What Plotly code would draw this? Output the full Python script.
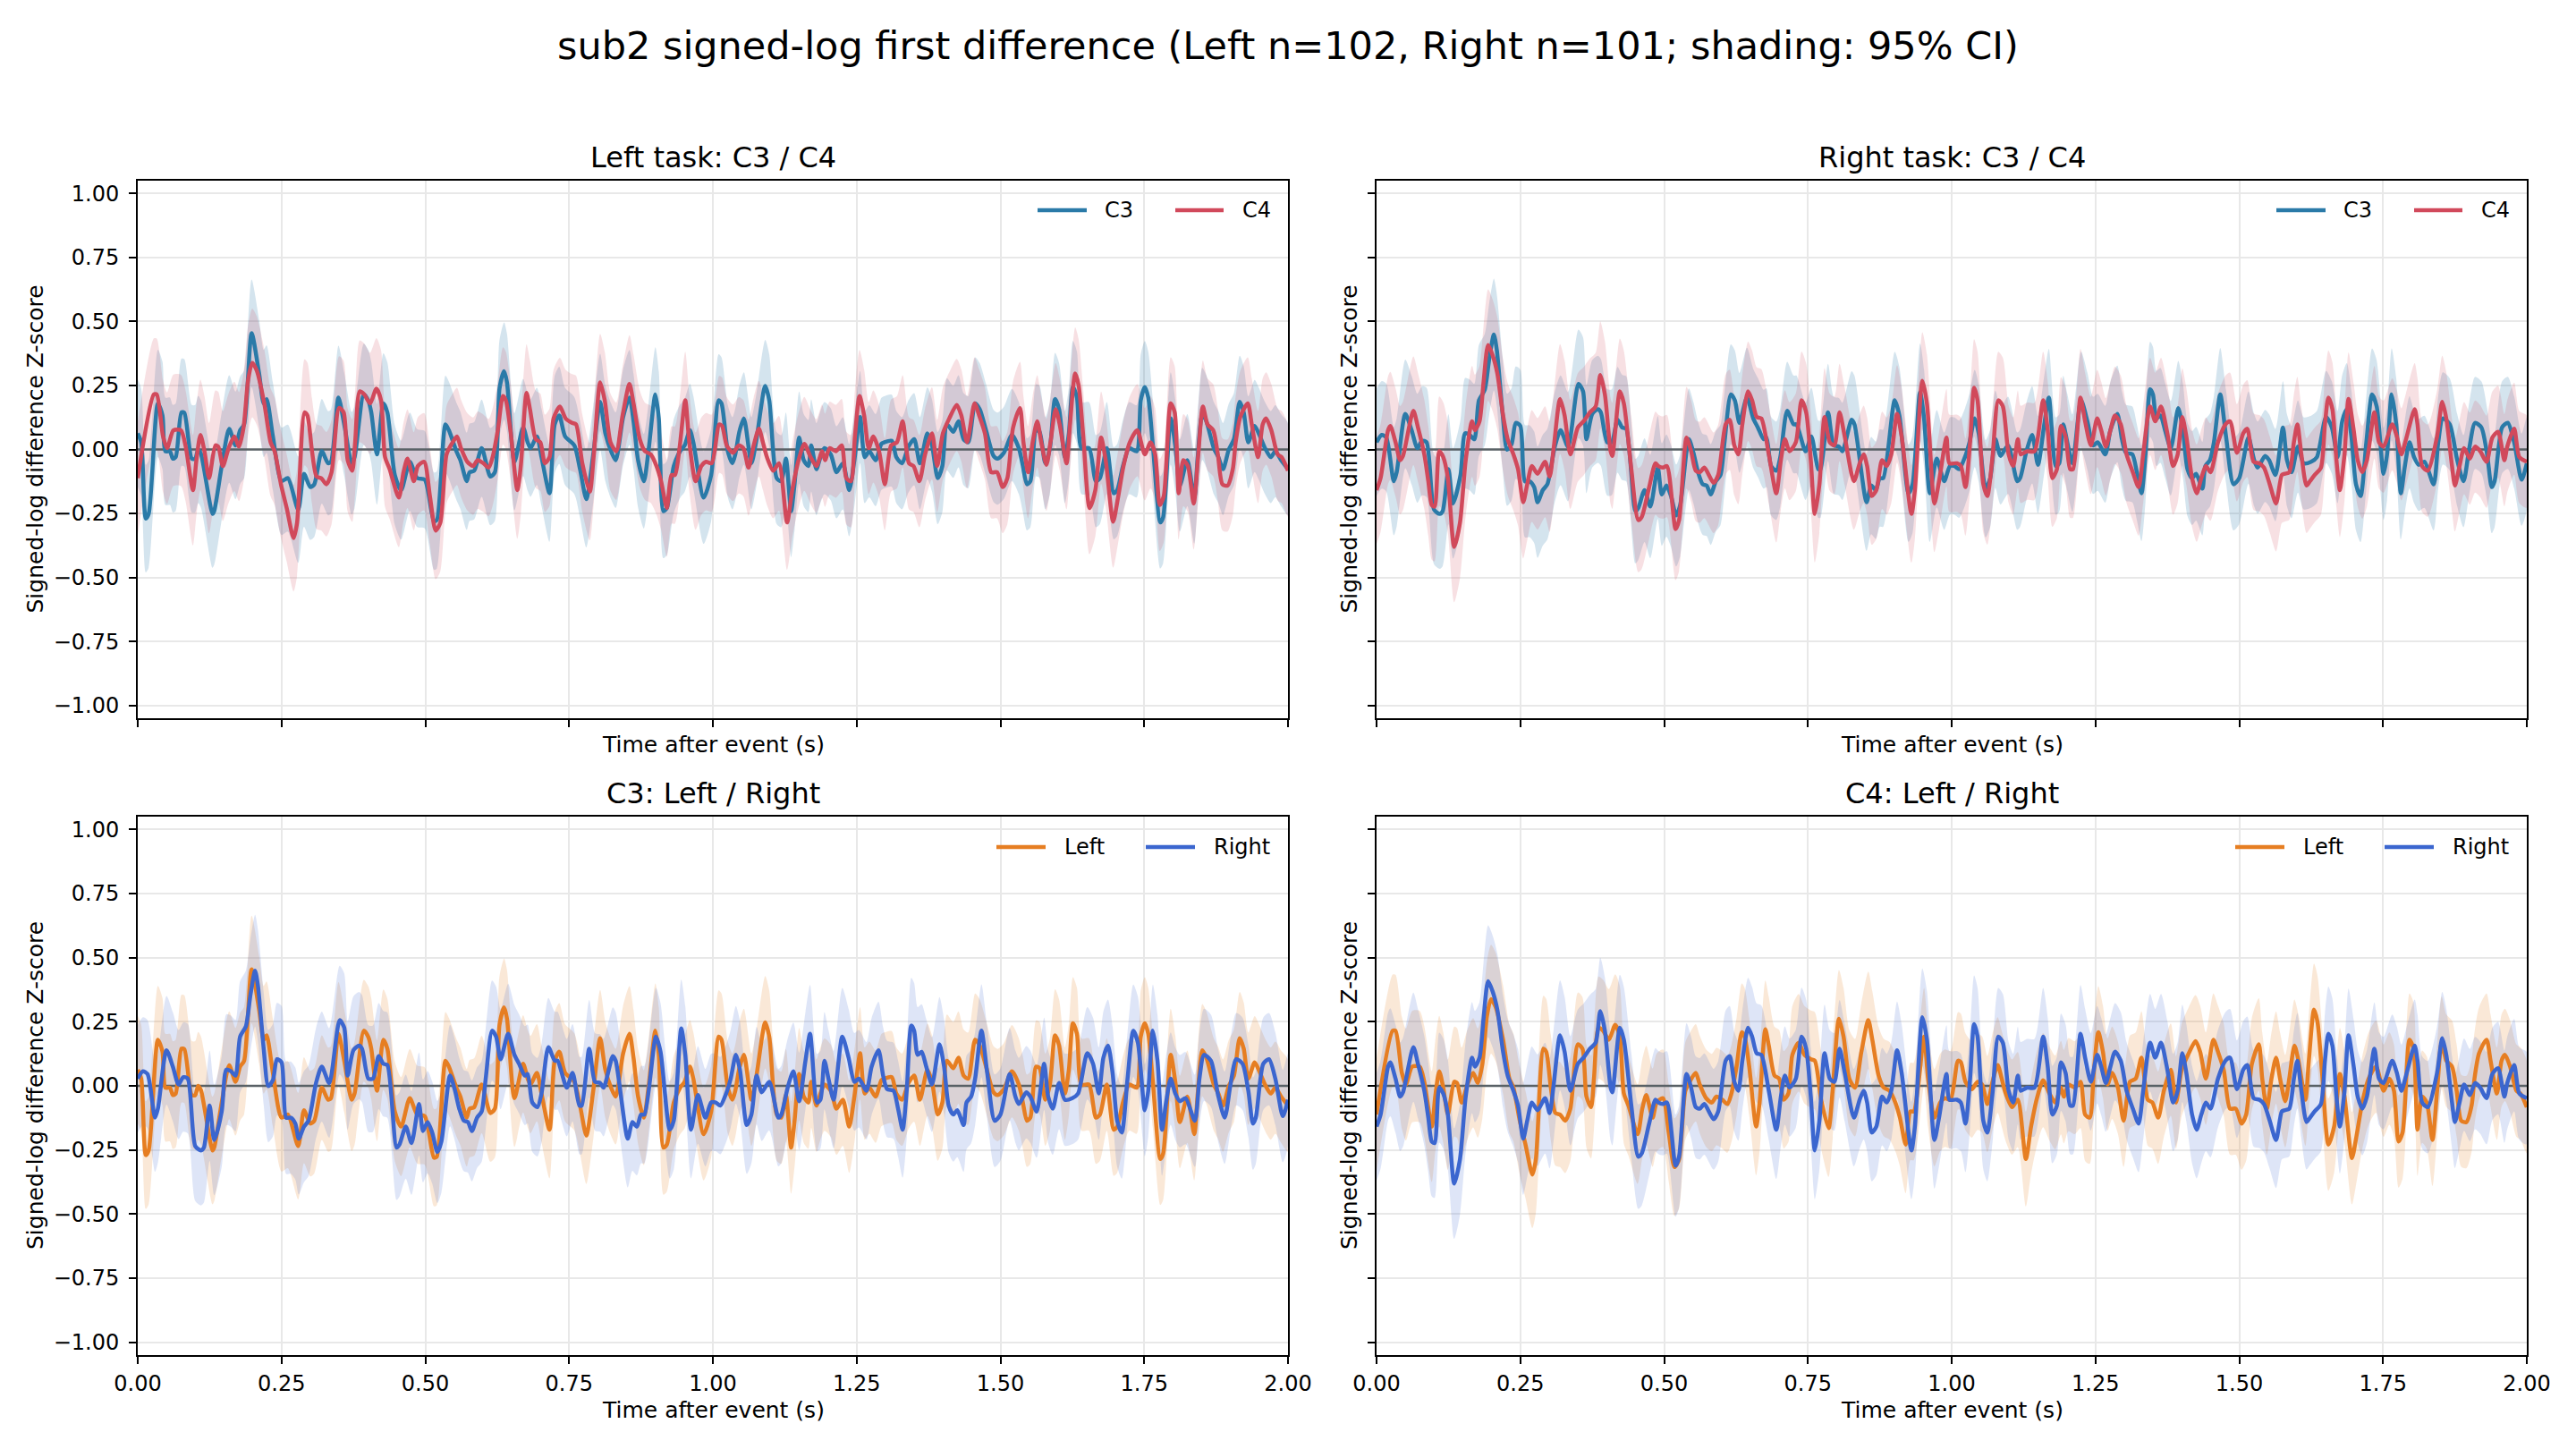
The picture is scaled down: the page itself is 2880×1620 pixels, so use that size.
import numpy as np
import plotly.graph_objects as go

# ---------------- data ----------------
# Mean signed-log first-difference z-score, (time s, value)
LEFT_C3 = [
(0.000,0.063),(0.006,0.028),(0.014,-0.270),(0.019,-0.252),(0.035,0.180),(0.043,0.133),(0.048,-0.007),
(0.056,-0.007),(0.061,-0.036),(0.066,-0.030),(0.076,0.145),(0.081,0.143),(0.094,-0.036),(0.100,-0.036),
(0.105,0.000),(0.110,-0.018),(0.130,-0.252),(0.133,-0.240),(0.146,-0.065),(0.159,0.080),(0.170,0.016),
(0.178,0.075),(0.185,0.098),(0.198,0.454),(0.211,0.297),(0.219,0.180),(0.224,0.197),(0.235,0.051),
(0.250,-0.124),(0.261,-0.112),(0.279,-0.235),(0.289,-0.095),(0.300,-0.147),(0.307,-0.136),(0.320,-0.007),
(0.331,-0.054),(0.336,-0.048),(0.349,0.203),(0.359,0.098),(0.372,-0.054),(0.377,-0.030),(0.393,0.215),
(0.401,0.190),(0.406,0.145),(0.416,-0.019),(0.427,0.180),(0.434,0.145),(0.447,-0.100),(0.458,-0.159),
(0.473,-0.048),(0.486,-0.112),(0.499,-0.118),(0.515,-0.280),(0.520,-0.276),(0.535,0.098),(0.541,0.075),
(0.554,-0.007),(0.561,-0.042),(0.572,-0.124),(0.577,-0.089),(0.585,-0.083),(0.598,0.005),(0.613,-0.106),
(0.621,-0.089),(0.629,0.238),(0.637,0.306),(0.642,0.262),(0.655,-0.048),(0.670,0.086),(0.678,0.028),
(0.683,0.005),(0.694,0.051),(0.702,-0.030),(0.716,-0.171),(0.725,0.098),(0.733,0.133),(0.743,0.051),
(0.759,0.016),(0.769,-0.077),(0.780,-0.194),(0.792,-0.019),(0.804,0.186),(0.813,0.063),(0.823,-0.007),
(0.831,-0.042),(0.844,0.127),(0.855,0.203),(0.862,0.110),(0.870,-0.042),(0.880,-0.124),(0.888,-0.007),
(0.900,0.215),(0.906,0.121),(0.914,-0.241),(0.920,-0.229),(0.932,-0.065),(0.943,-0.007),(0.951,0.016),
(0.960,0.075),(0.966,0.028),(0.984,-0.188),(0.997,-0.100),(1.010,0.192),(1.015,0.180),(1.026,-0.007),
(1.034,-0.054),(1.039,-0.019),(1.046,0.069),(1.054,0.121),(1.067,-0.054),(1.075,0.028),(1.091,0.248),
(1.098,0.192),(1.111,-0.112),(1.119,-0.124),(1.127,-0.036),(1.136,-0.241),(1.142,-0.136),(1.150,0.046),
(1.158,-0.042),(1.166,-0.065),(1.171,0.016),(1.180,-0.077),(1.187,-0.030),(1.194,0.005),(1.205,-0.019),
(1.215,-0.089),(1.226,-0.054),(1.237,-0.159),(1.246,-0.042),(1.256,0.127),(1.264,-0.030),(1.272,-0.007),
(1.283,-0.042),(1.293,0.022),(1.298,0.028),(1.311,0.034),(1.319,-0.030),(1.329,-0.054),(1.340,0.011),
(1.350,0.040),(1.360,-0.054),(1.373,0.063),(1.381,0.016),(1.391,-0.112),(1.399,-0.065),(1.407,0.098),
(1.418,0.069),(1.427,0.110),(1.436,0.040),(1.444,0.028),(1.456,0.180),(1.464,0.157),(1.475,0.075),
(1.488,-0.025),(1.495,-0.036),(1.506,-0.013),(1.520,0.057),(1.532,0.005),(1.539,-0.065),(1.546,-0.136),
(1.552,-0.124),(1.562,0.075),(1.568,0.069),(1.578,-0.054),(1.586,0.005),(1.595,0.197),(1.602,0.157),
(1.612,-0.030),(1.619,0.063),(1.626,0.244),(1.633,0.203),(1.641,0.005),(1.654,0.005),(1.666,-0.124),
(1.673,-0.112),(1.685,0.005),(1.697,-0.171),(1.703,-0.159),(1.713,-0.065),(1.724,0.005),(1.737,-0.007),
(1.744,0.192),(1.751,0.244),(1.757,0.203),(1.765,0.016),(1.778,-0.285),(1.783,-0.264),(1.796,0.121),
(1.804,0.016),(1.812,-0.141),(1.825,-0.042),(1.837,-0.188),(1.843,-0.030),(1.851,0.139),(1.858,0.110),
(1.871,0.005),(1.879,-0.030),(1.887,-0.077),(1.897,-0.001),(1.906,0.040),(1.916,0.186),(1.923,0.145),
(1.931,0.028),(1.942,0.092),(1.949,0.063),(1.960,0.005),(1.970,-0.030),(1.978,-0.007),(1.988,-0.042),
(2.000,-0.077),
]

RIGHT_C3 = [
(0.000,0.028),(0.009,0.057),(0.017,0.046),(0.030,-0.124),(0.035,-0.089),(0.050,0.139),(0.061,0.075),
(0.071,0.005),(0.079,0.034),(0.087,0.028),(0.100,-0.235),(0.110,-0.252),(0.115,-0.241),(0.125,-0.077),
(0.133,-0.211),(0.146,-0.100),(0.154,0.063),(0.162,0.057),(0.170,0.040),(0.178,0.192),(0.188,0.232),
(0.196,0.355),(0.204,0.449),(0.209,0.390),(0.219,0.145),(0.227,-0.001),(0.235,0.022),(0.242,0.104),
(0.250,0.092),(0.258,-0.124),(0.266,-0.124),(0.274,-0.147),(0.280,-0.206),(0.289,-0.159),(0.297,-0.136),
(0.310,0.011),(0.320,0.075),(0.333,0.011),(0.351,0.256),(0.359,0.227),(0.365,0.040),(0.375,0.139),
(0.385,0.157),(0.390,0.145),(0.401,0.028),(0.409,0.028),(0.419,0.116),(0.427,0.086),(0.434,0.081),
(0.450,-0.241),(0.455,-0.229),(0.466,-0.159),(0.476,-0.223),(0.489,-0.071),(0.496,-0.176),(0.504,-0.141),
(0.512,-0.182),(0.521,-0.258),(0.528,-0.217),(0.543,0.040),(0.551,-0.013),(0.559,-0.089),(0.567,-0.136),
(0.574,-0.141),(0.581,-0.176),(0.590,-0.124),(0.598,-0.100),(0.605,0.028),(0.616,0.215),(0.623,0.192),
(0.631,0.104),(0.644,0.203),(0.655,0.121),(0.663,0.086),(0.673,0.040),(0.678,0.046),(0.686,-0.065),
(0.695,-0.083),(0.702,-0.030),(0.714,0.151),(0.725,0.098),(0.730,0.098),(0.746,-0.007),(0.756,0.051),
(0.768,-0.077),(0.772,-0.077),(0.785,0.145),(0.795,0.016),(0.804,0.011),(0.810,-0.007),(0.826,0.116),
(0.831,0.098),(0.852,-0.206),(0.860,-0.141),(0.868,-0.159),(0.875,-0.112),(0.881,-0.112),(0.901,0.192),
(0.909,0.133),(0.925,-0.171),(0.932,-0.136),(0.945,0.224),(0.952,0.121),(0.962,-0.171),(0.974,-0.036),
(0.987,-0.124),(0.997,-0.065),(1.005,-0.065),(1.013,-0.077),(1.023,-0.030),(1.031,0.028),(1.040,0.121),
(1.047,0.063),(1.059,-0.153),(1.067,-0.112),(1.076,0.040),(1.085,-0.025),(1.098,0.016),(1.114,-0.124),
(1.119,-0.112),(1.130,-0.007),(1.140,0.057),(1.150,-0.060),(1.161,0.098),(1.169,0.203),(1.181,-0.065),
(1.187,-0.054),(1.194,0.098),(1.201,0.028),(1.210,-0.054),(1.225,0.192),(1.236,0.110),(1.246,0.016),
(1.254,0.028),(1.267,-0.019),(1.276,0.075),(1.288,0.139),(1.296,0.040),(1.303,-0.013),(1.314,-0.019),
(1.322,-0.089),(1.330,-0.171),(1.337,-0.019),(1.345,0.235),(1.350,0.215),(1.356,0.121),(1.363,0.133),
(1.371,0.075),(1.381,0.005),(1.394,0.162),(1.402,0.075),(1.410,-0.077),(1.418,-0.112),(1.425,-0.095),
(1.436,-0.153),(1.441,-0.065),(1.449,-0.042),(1.456,0.028),(1.467,0.215),(1.477,0.051),(1.490,-0.136),
(1.500,-0.112),(1.516,0.046),(1.526,-0.042),(1.532,-0.071),(1.545,-0.025),(1.552,-0.042),(1.563,-0.100),
(1.576,0.086),(1.583,-0.042),(1.591,-0.089),(1.602,0.011),(1.612,-0.054),(1.625,-0.048),(1.635,-0.030),
(1.651,0.127),(1.661,0.086),(1.671,-0.030),(1.679,0.110),(1.687,0.157),(1.695,0.051),(1.703,-0.136),
(1.711,-0.182),(1.721,0.028),(1.731,0.215),(1.739,0.168),(1.751,-0.095),(1.757,-0.019),(1.765,0.215),
(1.773,0.098),(1.781,-0.171),(1.788,-0.065),(1.796,0.028),(1.804,-0.030),(1.812,-0.060),(1.822,-0.048),
(1.838,-0.136),(1.846,0.028),(1.854,0.121),(1.866,0.098),(1.879,-0.042),(1.890,-0.124),(1.900,0.005),
(1.910,0.104),(1.921,0.086),(1.931,-0.019),(1.939,-0.147),(1.944,-0.124),(1.957,0.086),(1.967,0.104),
(1.978,0.028),(1.991,-0.118),(2.000,-0.054),
]

LEFT_C4 = [
(0.000,-0.112),(0.028,0.215),(0.033,0.215),(0.044,0.051),(0.051,0.005),(0.062,0.075),(0.075,0.075),
(0.083,0.016),(0.096,-0.159),(0.102,-0.042),(0.109,0.057),(0.116,-0.007),(0.124,-0.112),(0.135,0.016),
(0.140,0.011),(0.148,-0.065),(0.158,0.005),(0.168,0.051),(0.176,0.011),(0.184,0.086),(0.192,0.273),
(0.199,0.338),(0.207,0.308),(0.220,0.180),(0.231,0.028),(0.238,-0.007),(0.249,-0.136),(0.259,-0.229),
(0.271,-0.346),(0.277,-0.287),(0.290,0.145),(0.295,0.133),(0.303,-0.007),(0.311,-0.106),(0.319,-0.112),
(0.328,-0.136),(0.337,-0.089),(0.350,0.162),(0.358,0.145),(0.365,-0.042),(0.373,-0.083),(0.378,0.028),
(0.386,0.227),(0.394,0.215),(0.404,0.180),(0.415,0.238),(0.423,0.192),(0.430,-0.030),(0.438,-0.077),
(0.454,-0.188),(0.462,-0.089),(0.469,-0.036),(0.480,-0.124),(0.487,-0.065),(0.498,-0.048),(0.508,-0.182),
(0.518,-0.317),(0.526,-0.287),(0.537,-0.019),(0.546,0.022),(0.555,0.051),(0.562,0.005),(0.573,-0.048),
(0.583,-0.065),(0.591,-0.042),(0.601,-0.054),(0.610,-0.071),(0.617,-0.030),(0.626,0.075),(0.635,0.209),
(0.640,0.192),(0.648,0.075),(0.660,-0.159),(0.666,-0.065),(0.676,0.221),(0.682,0.157),(0.692,0.040),
(0.700,0.028),(0.708,-0.054),(0.716,-0.030),(0.723,0.121),(0.734,0.168),(0.744,0.121),(0.755,0.104),
(0.762,0.098),(0.773,-0.054),(0.786,-0.165),(0.793,-0.019),(0.804,0.262),(0.812,0.192),(0.822,0.028),
(0.832,-0.007),(0.843,0.133),(0.855,0.256),(0.862,0.180),(0.873,0.040),(0.882,-0.007),(0.892,-0.019),
(0.902,-0.065),(0.910,-0.124),(0.920,-0.229),(0.928,-0.100),(0.934,-0.100),(0.942,0.005),(0.952,0.192),
(0.959,0.028),(0.970,-0.124),(0.980,-0.065),(0.988,-0.048),(0.998,-0.054),(1.011,0.098),(1.016,0.092),
(1.024,0.016),(1.035,-0.013),(1.045,0.016),(1.053,0.005),(1.062,-0.071),(1.071,0.016),(1.080,0.081),
(1.087,0.028),(1.094,-0.030),(1.105,-0.083),(1.115,-0.054),(1.129,-0.285),(1.138,-0.159),(1.149,-0.042),
(1.159,0.022),(1.170,-0.030),(1.180,-0.065),(1.190,-0.007),(1.195,-0.042),(1.203,0.005),(1.214,-0.007),
(1.224,0.016),(1.232,-0.112),(1.240,-0.124),(1.247,0.051),(1.255,0.209),(1.263,0.133),(1.271,0.005),
(1.279,0.051),(1.289,-0.007),(1.299,-0.136),(1.310,0.016),(1.320,0.028),(1.330,0.110),(1.341,-0.054),
(1.349,-0.065),(1.359,-0.124),(1.369,-0.019),(1.381,0.063),(1.390,-0.065),(1.400,0.063),(1.411,0.121),
(1.424,0.174),(1.432,0.133),(1.442,0.028),(1.455,0.180),(1.463,0.133),(1.473,0.063),(1.484,-0.089),
(1.494,-0.089),(1.504,-0.147),(1.512,-0.112),(1.522,0.086),(1.534,0.162),(1.540,0.028),(1.548,-0.089),
(1.556,0.028),(1.564,0.110),(1.571,0.028),(1.580,-0.060),(1.587,0.028),(1.596,0.157),(1.603,0.098),
(1.615,-0.054),(1.621,0.098),(1.630,0.297),(1.636,0.250),(1.644,0.051),(1.655,-0.229),(1.665,-0.159),
(1.675,0.046),(1.683,-0.042),(1.696,-0.282),(1.704,-0.194),(1.714,-0.065),(1.725,0.028),(1.738,0.075),
(1.751,-0.019),(1.761,0.028),(1.769,-0.019),(1.777,-0.217),(1.784,-0.182),(1.796,0.180),(1.803,0.145),
(1.810,-0.171),(1.818,-0.042),(1.826,-0.065),(1.836,-0.211),(1.844,-0.019),(1.852,0.168),(1.860,0.098),
(1.870,0.075),(1.878,-0.019),(1.886,-0.136),(1.895,-0.141),(1.904,-0.077),(1.909,0.028),(1.917,0.127),
(1.930,0.180),(1.937,0.098),(1.948,-0.030),(1.956,0.098),(1.962,0.121),(1.971,0.075),(1.982,-0.019),
(1.989,-0.030),(2.000,-0.083),
]

RIGHT_C4 = [
(0.000,-0.159),(0.007,-0.112),(0.020,0.075),(0.024,0.092),(0.033,0.028),(0.041,-0.042),(0.046,-0.025),
(0.064,0.151),(0.072,0.086),(0.083,-0.019),(0.090,-0.124),(0.096,-0.217),(0.101,-0.223),(0.109,-0.007),
(0.116,-0.030),(0.124,-0.112),(0.135,-0.381),(0.145,-0.287),(0.155,-0.042),(0.166,0.110),(0.171,0.075),
(0.179,0.110),(0.186,0.262),(0.194,0.408),(0.202,0.367),(0.210,0.297),(0.220,0.133),(0.228,0.040),
(0.238,-0.019),(0.246,-0.077),(0.255,-0.206),(0.262,-0.136),(0.270,-0.065),(0.280,-0.095),(0.293,-0.048),
(0.301,-0.106),(0.308,0.005),(0.319,0.197),(0.327,0.133),(0.337,-0.019),(0.350,0.086),(0.360,0.110),
(0.371,0.145),(0.381,0.168),(0.389,0.291),(0.397,0.215),(0.407,-0.007),(0.410,-0.025),(0.423,0.227),
(0.430,0.180),(0.443,-0.077),(0.455,-0.276),(0.461,-0.264),(0.474,-0.147),(0.485,-0.054),(0.490,-0.065),
(0.498,-0.071),(0.505,-0.065),(0.520,-0.311),(0.526,-0.276),(0.539,0.046),(0.547,-0.007),(0.555,-0.083),
(0.562,-0.089),(0.570,-0.071),(0.586,-0.130),(0.594,-0.100),(0.607,0.098),(0.614,0.116),(0.622,0.016),
(0.629,-0.019),(0.636,0.098),(0.646,0.227),(0.653,0.192),(0.661,0.127),(0.669,0.121),(0.682,-0.019),
(0.695,-0.171),(0.703,-0.042),(0.710,0.040),(0.718,-0.007),(0.729,0.028),(0.739,0.192),(0.747,0.145),
(0.755,-0.042),(0.762,-0.252),(0.770,-0.136),(0.779,0.127),(0.788,0.028),(0.796,0.016),(0.805,0.145),
(0.814,0.051),(0.830,-0.124),(0.840,-0.054),(0.847,-0.019),(0.853,-0.065),(0.861,-0.182),(0.869,-0.159),
(0.879,-0.042),(0.887,-0.065),(0.895,-0.019),(0.905,0.139),(0.913,0.051),(0.930,-0.252),(0.936,-0.159),
(0.949,0.268),(0.957,0.180),(0.970,-0.211),(0.978,-0.124),(0.991,0.046),(0.996,-0.054),(1.009,-0.054),
(1.016,-0.065),(1.024,-0.147),(1.032,0.028),(1.039,0.241),(1.045,0.192),(1.055,-0.136),(1.062,-0.182),
(1.071,-0.030),(1.081,0.192),(1.089,0.168),(1.099,-0.019),(1.107,-0.065),(1.115,0.040),(1.120,-0.019),
(1.131,-0.007),(1.144,-0.007),(1.159,0.192),(1.167,0.075),(1.175,-0.112),(1.183,-0.077),(1.190,0.092),
(1.198,0.051),(1.206,-0.077),(1.211,-0.077),(1.224,0.203),(1.232,0.110),(1.242,0.016),(1.253,0.121),
(1.260,0.075),(1.268,0.011),(1.276,0.075),(1.284,0.133),(1.294,0.098),(1.304,-0.019),(1.315,-0.089),
(1.325,-0.147),(1.333,-0.019),(1.345,0.168),(1.354,0.110),(1.364,0.168),(1.375,0.063),(1.385,-0.065),
(1.393,-0.019),(1.401,0.127),(1.408,0.051),(1.418,-0.112),(1.426,-0.171),(1.434,-0.112),(1.442,-0.065),
(1.450,-0.089),(1.463,0.028),(1.476,0.098),(1.484,0.110),(1.496,-0.013),(1.507,0.063),(1.514,0.081),
(1.525,-0.048),(1.535,-0.054),(1.543,-0.071),(1.553,-0.136),(1.564,-0.211),(1.574,-0.100),(1.579,-0.095),
(1.587,-0.089),(1.595,0.028),(1.601,0.098),(1.608,-0.019),(1.617,-0.141),(1.623,-0.124),(1.631,-0.100),
(1.642,-0.071),(1.649,0.098),(1.655,0.203),(1.662,0.157),(1.669,-0.042),(1.675,-0.159),(1.683,-0.019),
(1.690,0.197),(1.699,0.075),(1.706,-0.042),(1.714,-0.089),(1.722,-0.042),(1.735,0.145),(1.743,0.028),
(1.751,0.011),(1.766,0.098),(1.774,0.051),(1.782,-0.019),(1.790,0.040),(1.805,0.157),(1.810,0.098),
(1.818,-0.065),(1.828,-0.083),(1.844,0.051),(1.853,0.186),(1.860,0.121),(1.870,-0.065),(1.875,-0.141),
(1.883,-0.065),(1.891,0.005),(1.901,-0.036),(1.910,0.011),(1.919,-0.007),(1.930,-0.048),(1.940,0.046),
(1.950,0.069),(1.961,-0.042),(1.966,0.011),(1.978,0.081),(1.987,-0.030),(2.000,-0.048),
]

# 95% CI half-width, read coarsely every 0.25 s
CI_T = [0.0, 0.25, 0.5, 0.75, 1.0, 1.25, 1.5, 1.75, 2.0]
CI_LEFT_C3 = [0.21, 0.21, 0.19, 0.19, 0.18, 0.18, 0.18, 0.18, 0.18]
CI_RIGHT_C3 = [0.21, 0.22, 0.20, 0.19, 0.19, 0.19, 0.18, 0.18, 0.18]
CI_LEFT_C4 = [0.22, 0.21, 0.19, 0.19, 0.19, 0.18, 0.18, 0.18, 0.18]
CI_RIGHT_C4 = [0.21, 0.22, 0.20, 0.19, 0.19, 0.19, 0.19, 0.18, 0.18]

X_TICKS = [0.0, 0.25, 0.5, 0.75, 1.0, 1.25, 1.5, 1.75, 2.0]
Y_TICKS = [-1.0, -0.75, -0.5, -0.25, 0.0, 0.25, 0.5, 0.75, 1.0]

TITLE = "sub2 signed-log first difference (Left n=102, Right n=101; shading: 95% CI)"
PANEL_TITLES = ["Left task: C3 / C4", "Right task: C3 / C4", "C3: Left / Right", "C4: Left / Right"]
XLABEL = "Time after event (s)"
YLABEL = "Signed-log difference Z-score"

# ---------------- styling ----------------
W, H = 2880, 1620
FONT = "DejaVu Sans"
COL_C3 = "#2a7aa8"
COL_C4 = "#d1495b"
COL_L = "#e67e22"
COL_R = "#3b66cf"

def rgba(hexc, a):
    hexc = hexc.lstrip("#")
    r, g, b = int(hexc[0:2], 16), int(hexc[2:4], 16), int(hexc[4:6], 16)
    return f"rgba({r},{g},{b},{a})"

# axes pixel boxes (left, top, right, bottom)
BOX = {
    1: (154, 202, 1440, 803),
    2: (1539, 202, 2825, 803),
    3: (154, 913, 1440, 1515),
    4: (1539, 913, 2825, 1515),
}

def series(pairs, ci):
    t = np.array([p[0] for p in pairs])
    m = np.array([p[1] for p in pairs])
    hw = np.interp(t, CI_T, ci)
    return t, m, hw

S = {
    "LC3": series(LEFT_C3, CI_LEFT_C3),
    "RC3": series(RIGHT_C3, CI_RIGHT_C3),
    "LC4": series(LEFT_C4, CI_LEFT_C4),
    "RC4": series(RIGHT_C4, CI_RIGHT_C4),
}

# panel -> [(series key, legend name, colour, fill alpha)]
PANELS = {
    1: [("LC3", "C3", COL_C3, 0.20), ("LC4", "C4", COL_C4, 0.17)],
    2: [("RC3", "C3", COL_C3, 0.20), ("RC4", "C4", COL_C4, 0.17)],
    3: [("LC3", "Left", COL_L, 0.18), ("RC3", "Right", COL_R, 0.17)],
    4: [("LC4", "Left", COL_L, 0.18), ("RC4", "Right", COL_R, 0.17)],
}

fig = go.Figure()
SMOOTH = 0.7
LW = 4.5

for p, items in PANELS.items():
    xa = "x" if p == 1 else f"x{p}"
    ya = "y" if p == 1 else f"y{p}"
    for key, name, col, a in items:
        t, m, hw = S[key]
        fig.add_trace(go.Scatter(
            x=np.concatenate([t, t[::-1]]),
            y=np.concatenate([m + hw, (m - hw)[::-1]]),
            fill="toself", fillcolor=rgba(col, a), line=dict(width=0, shape="spline", smoothing=SMOOTH),
            mode="lines", showlegend=False, hoverinfo="skip", xaxis=xa, yaxis=ya))
    fig.add_trace(go.Scatter(x=[0, 2], y=[0, 0], mode="lines",
                             line=dict(color="#596166", width=2.5),
                             showlegend=False, hoverinfo="skip", xaxis=xa, yaxis=ya))
    for key, name, col, a in items:
        t, m, hw = S[key]
        fig.add_trace(go.Scatter(
            x=t, y=m, mode="lines", name=name, showlegend=False,
            line=dict(color=col, width=LW, shape="spline", smoothing=SMOOTH),
            xaxis=xa, yaxis=ya))

layout = dict(
    width=W, height=H, margin=dict(l=0, r=0, t=0, b=0, autoexpand=False),
    paper_bgcolor="white", plot_bgcolor="white",
    font=dict(family=FONT, size=24, color="black"),
    showlegend=False,
)

annotations = []
shapes = []
for p, (l, t, r, b) in BOX.items():
    sx = "" if p == 1 else str(p)
    common = dict(
        showgrid=True, gridcolor="#e8e8e8", gridwidth=1.6,
        showline=True, mirror=True, linecolor="black", linewidth=2,
        ticks="outside", ticklen=8, tickwidth=2, tickcolor="black",
        zeroline=False, tickfont=dict(family=FONT, size=24, color="black"),
        automargin=False,
    )
    layout["xaxis" + sx] = dict(
        common, domain=[l / W, r / W], anchor="y" + sx, range=[0, 2],
        tickvals=X_TICKS, tickformat=".2f", showticklabels=p in (3, 4),
        ticklabelstandoff=1)
    layout["yaxis" + sx] = dict(
        common, domain=[1 - b / H, 1 - t / H], anchor="x" + sx, range=[-1.05, 1.05],
        tickvals=Y_TICKS, tickformat=".2f", showticklabels=p in (1, 3),
        ticklabelstandoff=6)
    cx = (l + r) / 2 / W
    # panel title
    annotations.append(dict(text=PANEL_TITLES[p - 1], x=cx, y=1 - (t - 26) / H, xref="paper", yref="paper",
                            xanchor="center", yanchor="middle", showarrow=False,
                            font=dict(family=FONT, size=32, color="black")))
    # x label
    ylab = b + 29 if p in (1, 2) else b + 61
    annotations.append(dict(text=XLABEL, x=cx, y=1 - ylab / H, xref="paper", yref="paper",
                            xanchor="center", yanchor="middle", showarrow=False,
                            font=dict(family=FONT, size=25, color="black")))
    # y label
    xlab = 39 if p in (1, 3) else 1508
    annotations.append(dict(text=YLABEL, x=xlab / W, y=1 - (t + b) / 2 / H, xref="paper", yref="paper",
                            xanchor="center", yanchor="middle", showarrow=False, textangle=-90,
                            font=dict(family=FONT, size=25, color="black")))
    # legend (drawn manually, matplotlib style: long handles, two columns)
    if p in (1, 2):
        offs = [(280, 225, 207), (126, 72, 53)]
        ly = t + 33
    else:
        offs = [(326, 271, 252), (159, 104, 85)]
        ly = t + 34
    for (key, name, col, a), (o0, o1, ot) in zip(PANELS[p], offs):
        shapes.append(dict(type="line", xref="paper", yref="paper",
                           x0=(r - o0) / W, x1=(r - o1) / W, y0=1 - ly / H, y1=1 - ly / H,
                           line=dict(color=col, width=LW)))
        annotations.append(dict(text=name, x=(r - ot) / W, y=1 - ly / H, xref="paper", yref="paper",
                                xanchor="left", yanchor="middle", showarrow=False,
                                font=dict(family=FONT, size=24, color="black")))

annotations.append(dict(text=TITLE, x=0.5, y=1 - 51 / H, xref="paper", yref="paper",
                        xanchor="center", yanchor="middle", showarrow=False,
                        font=dict(family=FONT, size=43, color="black")))
layout["annotations"] = annotations
layout["shapes"] = shapes
fig.update_layout(**layout)

fig.write_html("out.html")
